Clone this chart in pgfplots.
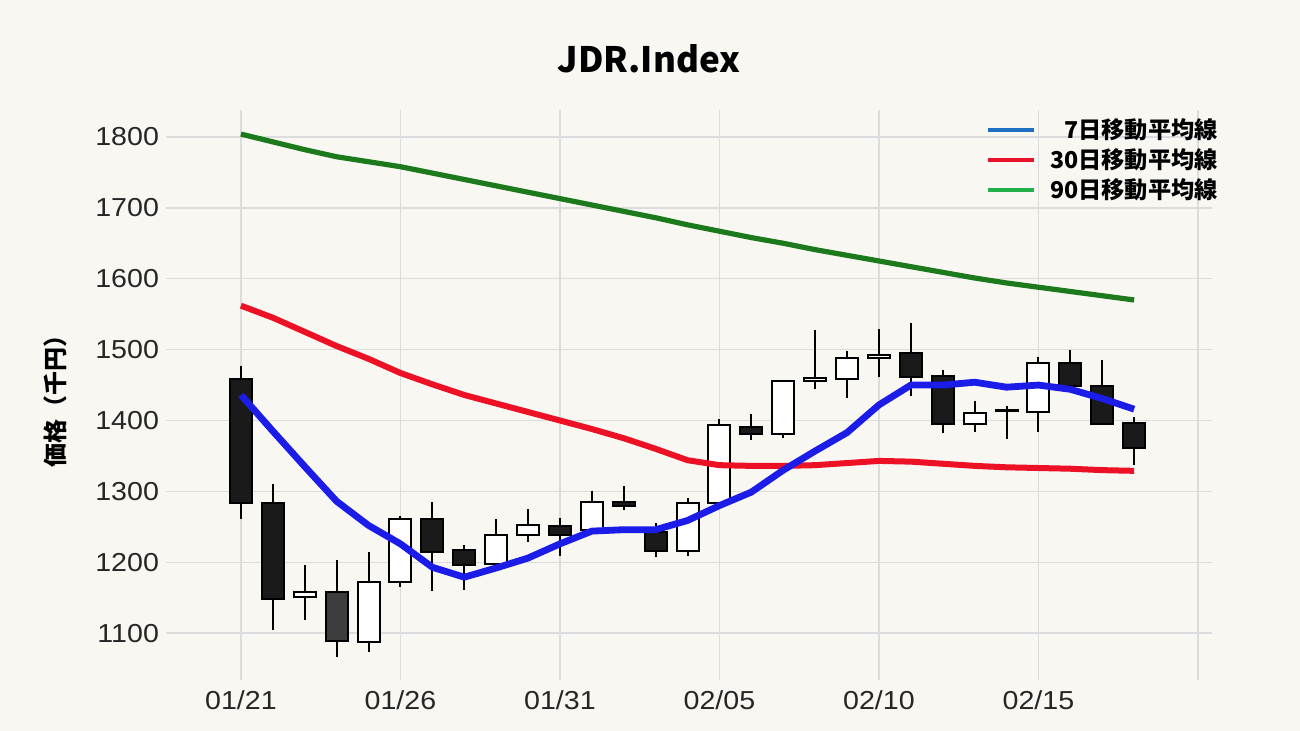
\documentclass[border=0pt]{standalone}
\usepackage{pgfplots}
\pgfplotsset{compat=1.18}
\usepackage{fontspec}
\setmainfont{Liberation Sans}
\newfontfamily\cjk{Noto Sans CJK JP}
\newfontfamily\tickfont{Liberation Sans}[FakeStretch=1.1]
\definecolor{bg}{HTML}{F8F7F2}
\definecolor{gridc}{HTML}{DCDCDC}
\definecolor{cblack}{HTML}{1A1A1A}
\definecolor{cgrey}{HTML}{3C3C3C}
\definecolor{mablue}{HTML}{1C1CE8}
\definecolor{mared}{HTML}{EC1125}
\definecolor{magreen}{HTML}{1C7A1C}
\definecolor{legblue}{HTML}{1F6FC0}
\definecolor{legred}{HTML}{E8102A}
\definecolor{leggreen}{HTML}{22B04B}
% xl, x, xr, open, high, low, close, fill
\newcommand{\candle}[8]{%
  \addplot[black, line width=1pt, forget plot] coordinates {(#2,#5) (#2,#6)};
  \addplot[draw=black, line width=1pt, fill=#8, forget plot] coordinates {(#1,#4) (#3,#4) (#3,#7) (#1,#7)} -- cycle;
}
\begin{document}
\begin{tikzpicture}
\fill[bg] (0,0) rectangle (650pt,365.5pt);
\begin{axis}[
  at={(83pt,25.5pt)}, anchor=south west,
  scale only axis, width=523pt, height=285pt,
  xmin=-2.35, xmax=30.44, ymin=1034, ymax=1838,
  axis line style={draw=none},
  tick style={draw=none},
  xmajorgrids, ymajorgrids,
  grid style={gridc, line width=0.75pt},
  xtick={0,5,10,15,20,25,30},
  xticklabels={01/21,01/26,01/31,02/05,02/10,02/15,{}},
  ytick={1100,1200,1300,1400,1500,1600,1700,1800},
  /pgf/number format/assume math mode=true,
  /pgf/number format/1000 sep={},
  ticklabel style={font=\tickfont\fontsize{13}{15}\selectfont, text=black!85},
  xticklabel style={yshift=-2pt},
  no markers,
  legend cell align=right,
  legend image code/.code={\draw[#1, line width=2pt] (0pt,0pt) -- (23pt,0pt);},
  legend style={at={(1.0096,0.992)}, anchor=north east, draw=none, fill=none,
    inner sep=0pt, font=\cjk\bfseries\fontsize{11.6}{13}\selectfont,
    row sep=-0.6pt,
    /tikz/every odd column/.append style={column sep=5pt}},
]
\candle{-0.345}{0}{0.345}{1458}{1477}{1261}{1283}{cblack}
\candle{0.655}{1}{1.345}{1283}{1311}{1104}{1148}{cblack}
\candle{1.655}{2}{2.345}{1151}{1196}{1118}{1158}{white}
\candle{2.655}{3}{3.345}{1158}{1203}{1066}{1089}{cgrey}
\candle{3.655}{4}{4.345}{1088}{1215}{1074}{1172}{white}
\candle{4.655}{5}{5.345}{1172}{1266}{1165}{1261}{white}
\candle{5.655}{6}{6.345}{1261}{1285}{1159}{1215}{cblack}
\candle{6.655}{7}{7.345}{1217}{1224}{1161}{1196}{cblack}
\candle{7.655}{8}{8.345}{1197}{1261}{1190}{1239}{white}
\candle{8.655}{9}{9.345}{1238}{1275}{1229}{1252}{white}
\candle{9.655}{10}{10.345}{1251}{1263}{1209}{1238}{cblack}
\candle{10.655}{11}{11.345}{1245}{1301}{1240}{1285}{white}
\candle{11.655}{12}{12.345}{1285}{1307}{1274}{1280}{cblack}
\candle{12.655}{13}{13.345}{1243}{1255}{1207}{1216}{cblack}
\candle{13.655}{14}{14.345}{1216}{1291}{1209}{1284}{white}
\candle{14.655}{15}{15.345}{1284}{1402}{1283}{1394}{white}
\candle{15.655}{16}{16.345}{1391}{1409}{1373}{1381}{cblack}
\candle{16.655}{17}{17.345}{1381}{1456}{1376}{1456}{white}
\candle{17.655}{18}{18.345}{1456}{1527}{1444}{1460}{white}
\candle{18.655}{19}{19.345}{1458}{1498}{1432}{1488}{white}
\candle{19.655}{20}{20.345}{1488}{1529}{1461}{1493}{white}
\candle{20.655}{21}{21.345}{1495}{1538}{1434}{1462}{cblack}
\candle{21.655}{22}{22.345}{1463}{1471}{1382}{1395}{cblack}
\candle{22.655}{23}{23.345}{1395}{1428}{1384}{1411}{white}
\candle{23.655}{24}{24.345}{1413}{1421}{1374}{1415}{white}
\candle{24.655}{25}{25.345}{1412}{1489}{1384}{1481}{white}
\candle{25.655}{26}{26.345}{1481}{1500}{1445}{1449}{cblack}
\candle{26.655}{27}{27.345}{1449}{1486}{1394}{1395}{cblack}
\candle{27.655}{28}{28.345}{1396}{1405}{1337}{1361}{cblack}
% 90-day MA
\addplot[magreen, line width=2.6pt, line join=round, forget plot] coordinates {
(0,1804) (1,1793) (2,1782) (3,1772) (4,1765) (5,1758) (6,1749) (7,1740) (8,1731) (9,1722)
(10,1713) (11,1704) (12,1695) (13,1686) (14,1676) (15,1667) (16,1658) (17,1650) (18,1641) (19,1633)
(20,1625) (21,1617) (22,1609) (23,1601) (24,1594) (25,1588) (26,1582) (27,1576) (28,1570)};
% 30-day MA
\addplot[mared, line width=3pt, line join=round, forget plot] coordinates {
(0,1562) (1,1545) (2,1525) (3,1505) (4,1487) (5,1467) (6,1451) (7,1436) (8,1424) (9,1412)
(10,1400) (11,1388) (12,1375) (13,1360) (14,1344) (15,1337) (16,1336) (17,1336) (18,1337) (19,1340)
(20,1343) (21,1342) (22,1339) (23,1336) (24,1334) (25,1333) (26,1332) (27,1330) (28,1329)};
% 7-day MA
\addplot[mablue, line width=3.4pt, line join=round, forget plot] coordinates {
(0,1436) (1,1385) (2,1335) (3,1286) (4,1252) (5,1226) (6,1193) (7,1179) (8,1192) (9,1206)
(10,1226) (11,1244) (12,1246) (13,1246) (14,1259) (15,1280) (16,1299) (17,1330) (18,1357) (19,1383)
(20,1422) (21,1450) (22,1450) (23,1454) (24,1447) (25,1450) (26,1444) (27,1431) (28,1416)};
\addlegendimage{legblue}
\addlegendentry{7日移動平均線}
\addlegendimage{legred}
\addlegendentry{30日移動平均線}
\addlegendimage{leggreen}
\addlegendentry{90日移動平均線}
\end{axis}
\node[font=\cjk\bfseries\fontsize{17.5}{20}\selectfont] at (324.5pt,336pt) {JDR.Index};
\node[rotate=90, font=\cjk\bfseries\fontsize{12}{14}\selectfont] at (27.5pt,167.5pt) {価格（千円）};
\pgfresetboundingbox
\path[use as bounding box] (0,0) rectangle (650pt,365.5pt);
\end{tikzpicture}
\end{document}
